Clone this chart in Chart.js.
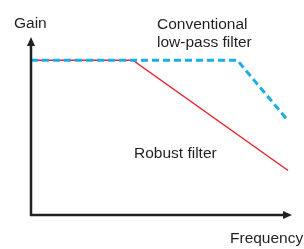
<!DOCTYPE html>
<html>
<head>
<meta charset="utf-8">
<script src="https://cdn.jsdelivr.net/npm/chart.js@4"></script>
<style>
  html, body { margin: 0; padding: 0; background: #fff; }
  #wrap { width: 304px; height: 249px; }
</style>
</head>
<body>
<div id="wrap"><canvas id="filter-chart" width="304" height="249"></canvas></div>
<script>
// data (arbitrary units 0..100)
let SERIES_NAMES = ['Conventional low-pass filter', 'Robust filter'];
let CONVENTIONAL_FREQ = [0, 79, 98.5];
let CONVENTIONAL_GAIN = [87, 87, 53];
let ROBUST_FREQ = [0, 39, 98.5];
let ROBUST_GAIN = [87, 87, 25];
let AXIS_LABELS = ['Gain', 'Frequency'];
let NOTE_LABELS = [['Conventional', 'low-pass filter'], ['Robust filter']];

const INK = '#231f20';
const FONT = '15.5px "Liberation Sans", Arial, sans-serif';

function toPoints(xs, ys) {
    return xs.map((x, i) => ({ x: x, y: ys[i] }));
}

// axes with arrow heads + the text notes
const sketchAxes = {
    id: 'sketchAxes',
    afterDatasetsDraw(chart) {
        const { ctx, chartArea: a } = chart;
        ctx.save();
        ctx.strokeStyle = INK;
        ctx.fillStyle = INK;
        ctx.lineWidth = 2.5;
        ctx.lineCap = 'butt';
        ctx.beginPath();
        ctx.moveTo(a.left, a.top + 6);
        ctx.lineTo(a.left, a.bottom);
        ctx.lineTo(a.right - 6, a.bottom);
        ctx.stroke();

        // arrow heads
        ctx.beginPath();
        ctx.moveTo(a.left, a.top);
        ctx.lineTo(a.left - 4, a.top + 9);
        ctx.lineTo(a.left + 4, a.top + 9);
        ctx.closePath();
        ctx.fill();
        ctx.beginPath();
        ctx.moveTo(a.right, a.bottom);
        ctx.lineTo(a.right - 9, a.bottom - 4);
        ctx.lineTo(a.right - 9, a.bottom + 4);
        ctx.closePath();
        ctx.fill();

        ctx.font = FONT;
        ctx.textAlign = 'left';
        ctx.textBaseline = 'alphabetic';
        ctx.fillText(AXIS_LABELS[0], 14, 28);
        ctx.fillText(AXIS_LABELS[1], 230, 243);
        ctx.fillText(NOTE_LABELS[0][0], 157, 29);
        ctx.fillText(NOTE_LABELS[0][1], 157, 47);
        ctx.fillText(NOTE_LABELS[1][0], 134, 158);
        ctx.restore();
    }
};

const ctx = document.getElementById('filter-chart');

new Chart(ctx, {
    type: 'line',
    data: {
        datasets: [{
            label: SERIES_NAMES[0],
            data: toPoints(CONVENTIONAL_FREQ, CONVENTIONAL_GAIN),
            borderColor: '#1aaee6',
            borderWidth: 3,
            borderDash: [7, 4],
            pointRadius: 0,
            tension: 0
        }, {
            label: SERIES_NAMES[1],
            data: toPoints(ROBUST_FREQ, ROBUST_GAIN),
            borderColor: '#e8262e',
            borderWidth: 1.5,
            pointRadius: 0,
            tension: 0
        }]
    },
    options: {
        responsive: false,
        animation: false,
        devicePixelRatio: 1,
        layout: { padding: { left: 31, right: 12, top: 37, bottom: 34 } },
        plugins: {
            legend: { display: false },
            tooltip: { enabled: false }
        },
        scales: {
            x: { type: 'linear', min: 0, max: 100, display: false },
            y: { type: 'linear', min: 0, max: 100, display: false }
        }
    },
    plugins: [sketchAxes]
});
</script>
</body>
</html>
